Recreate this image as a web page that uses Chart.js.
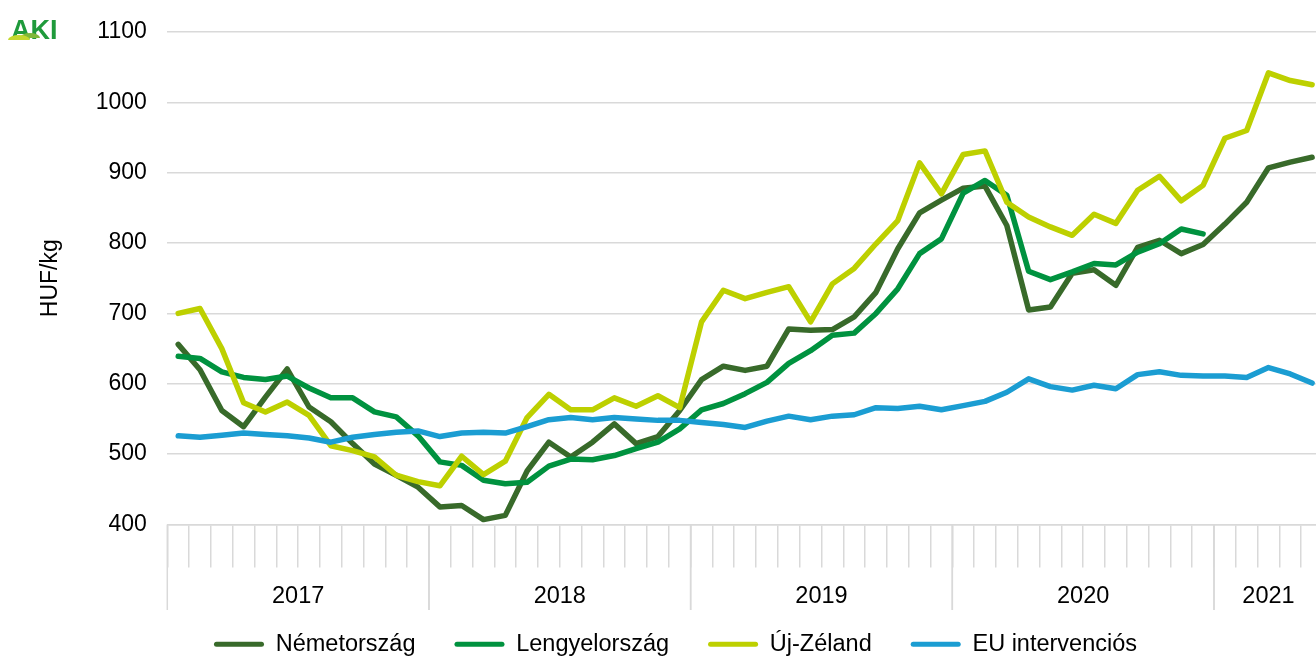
<!DOCTYPE html>
<html>
<head>
<meta charset="utf-8">
<script src="https://cdn.jsdelivr.net/npm/chart.js@4.4.1/dist/chart.umd.min.js"></script>
<style>
  html, body { margin: 0; padding: 0; background: #fff; overflow: hidden; }
  #wrap { width: 1323px; height: 680px; }
</style>
</head>
<body>
<div id="wrap"><canvas id="chart"></canvas></div>
<script>
// Years and how many months each one has on the axis
const years = ['2017', '2018', '2019', '2020', '2021'];
const monthsPerYear = [12, 12, 12, 12, 5];

// Prices, HUF/kg, monthly from Jan 2017
const nemetorszag = [656, 620, 562, 539, 581, 621, 567, 546, 515, 486, 470, 453,
  425, 427, 407, 413, 476, 517, 496, 517, 543, 515, 525, 562,
  606, 625, 619, 625, 678, 676, 677, 695, 730, 792, 843, 861,
  878, 881, 825, 705, 709, 757, 762, 740, 794, 804, 785, 798,
  827, 858, 907, 915, 922];
const lengyelorszag = [639, 636, 617, 609, 606, 611, 594, 580, 580, 560, 553, 526,
  489, 484, 463, 458, 460, 483, 493, 492, 498, 508, 517, 536,
  563, 572, 586, 602, 629, 647, 669, 672, 700, 735, 785, 806,
  871, 889, 868, 760, 748, 759, 771, 769, 787, 799, 820, 813,
  null, null, null, null, null];
const ujZeland = [700, 707, 650, 573, 560, 574, 555, 512, 505, 496, 470, 461,
  455, 497, 471, 490, 552, 585, 563, 563, 580, 568, 583, 566,
  688, 733, 721, 730, 738, 688, 742, 764, 799, 832, 914, 870,
  926, 931, 858, 837, 823, 811, 841, 828, 875, 895, 860, 882,
  949, 960, 1042, 1031, 1025];
const euIntervencios = [526, 524, 527, 530, 528, 526, 523, 517, 524, 528, 531, 533,
  525, 530, 531, 530, 539, 549, 552, 549, 552, 550, 548, 548,
  545, 542, 538, 547, 554, 549, 554, 556, 566, 565, 568, 563,
  569, 575, 588, 607, 596, 591, 598, 593, 613, 617, 612, 611,
  611, 609, 623, 614, 601];

// month labels like 2017-01
const labels = [];
years.forEach((y, i) => {
  for (let m = 1; m <= monthsPerYear[i]; m++) {
    labels.push(y + '-' + String(m).padStart(2, '0'));
  }
});

const FONT = "'Liberation Sans', Arial, sans-serif";
const GRID = '#d9d9d9';

function series(label, data, color, order) {
  return {
    label: label,
    data: data,
    borderColor: color,
    backgroundColor: color,
    borderWidth: 5.5,
    pointRadius: 0,
    tension: 0,
    borderJoinStyle: 'round',
    borderCapStyle: 'round',
    spanGaps: false,
    order: order
  };
}

// year separators + year labels under the month ticks
const yearAxis = {
  id: 'yearAxis',
  afterDraw(chart) {
    const ctx = chart.ctx;
    const x = chart.scales.x;
    const top = chart.chartArea.bottom;
    const step = x.getPixelForValue(1) - x.getPixelForValue(0);
    ctx.save();
    ctx.strokeStyle = GRID;
    ctx.lineWidth = 1.5;
    ctx.fillStyle = '#000';
    ctx.font = '23.5px ' + FONT;
    ctx.textAlign = 'center';
    ctx.textBaseline = 'middle';
    let idx = 0;
    years.forEach((y, i) => {
      const first = idx;
      const last = idx + monthsPerYear[i] - 1;
      const left = x.getPixelForValue(first) - step / 2;
      const right = x.getPixelForValue(last) + step / 2;
      ctx.beginPath();
      ctx.moveTo(left, top);
      ctx.lineTo(left, 610);
      ctx.moveTo(right, top);
      ctx.lineTo(right, 610);
      ctx.stroke();
      ctx.fillText(y, (x.getPixelForValue(first) + x.getPixelForValue(last)) / 2, 597);
      idx = last + 1;
    });
    ctx.restore();
  }
};

// small AKI logo in the corner
const logo = {
  id: 'logo',
  afterDraw(chart) {
    const ctx = chart.ctx;
    ctx.save();
    ctx.fillStyle = '#1f9a3b';
    ctx.font = 'bold 27px ' + FONT;
    ctx.textBaseline = 'alphabetic';
    ctx.fillText('AKI', 11, 39);
    ctx.fillStyle = '#7fb83a';
    ctx.beginPath();
    ctx.ellipse(30, 38, 10, 5, 0, Math.PI, Math.PI * 2);
    ctx.fill();
    ctx.fillStyle = '#c4d82e';
    ctx.beginPath();
    ctx.ellipse(19, 40, 11, 5, 0, Math.PI, Math.PI * 2);
    ctx.fill();
    ctx.restore();
  }
};

const ctx = document.getElementById('chart').getContext('2d');
const chart = new Chart(ctx, {
  type: 'line',
  data: {
    labels: labels,
    datasets: [
      series('Németország', nemetorszag, '#386a2a', 3),
      series('Lengyelország', lengyelorszag, '#00923f', 2),
      series('Új-Zéland', ujZeland, '#bdd000', 1),
      series('EU intervenciós', euIntervencios, '#1b9dd2', 0)
    ]
  },
  options: {
    responsive: true,
    maintainAspectRatio: false,
    animation: false,
    layout: {
      padding: { left: 28, right: 0, top: 20, bottom: 14 }
    },
    plugins: {
      tooltip: { enabled: false },
      legend: {
        display: true,
        position: 'bottom',
        labels: {
          boxWidth: 50,
          boxHeight: 5,
          padding: 39,
          color: '#000',
          font: { family: FONT, size: 23.5 },
          sort: (a, b) => a.datasetIndex - b.datasetIndex,
          generateLabels(c) {
            const items = Chart.defaults.plugins.legend.labels.generateLabels(c);
            items.forEach(it => {
              it.lineWidth = 0;
              it.fillStyle = it.strokeStyle;
              it.borderRadius = 2.5;
            });
            return items;
          },
          useBorderRadius: true,
          borderRadius: 2.5
        }
      }
    },
    scales: {
      x: {
        type: 'category',
        offset: true,
        grid: {
          offset: true,
          drawOnChartArea: false,
          drawTicks: true,
          tickLength: 43,
          color: GRID,
          lineWidth: 1.5
        },
        border: { display: true, color: GRID, width: 1.5 },
        ticks: { display: false },
        afterFit(s) { s.height = 69; }
      },
      y: {
        min: 400,
        max: 1100,
        ticks: {
          stepSize: 100,
          padding: 20.5,
          color: '#000',
          font: { family: FONT, size: 23, lineHeight: 1 },
          callback: v => String(v)
        },
        grid: {
          color: GRID,
          lineWidth: 1.5,
          drawTicks: false
        },
        border: { display: false },
        title: {
          display: true,
          text: 'HUF/kg',
          color: '#000',
          font: { family: FONT, size: 23 },
          padding: { top: 9, bottom: 0 }
        },
        afterFit(s) { s.width = 139.3; }
      }
    }
  },
  plugins: [yearAxis, logo]
});
</script>
</body>
</html>
